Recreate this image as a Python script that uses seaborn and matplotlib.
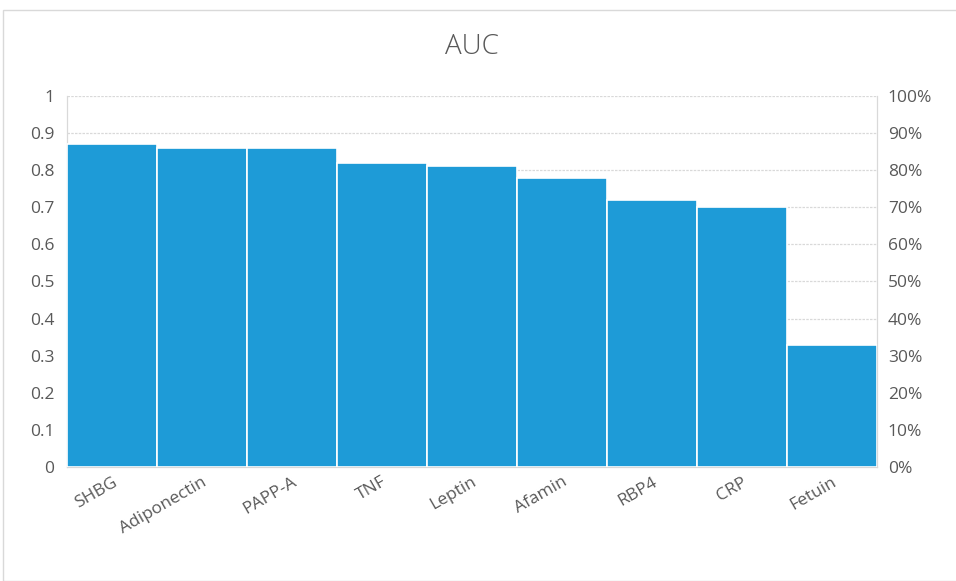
import matplotlib
matplotlib.use("Agg")
import matplotlib.pyplot as plt
from matplotlib.patches import Rectangle
from matplotlib.ticker import PercentFormatter
import seaborn as sns
import pandas as pd

# values
markers = ["SHBG", "Adiponectin", "PAPP-A", "TNF", "Leptin",
           "Afamin", "RBP4", "CRP", "Fetuin"]
auc = [0.87, 0.86, 0.86, 0.82, 0.81, 0.78, 0.72, 0.70, 0.33]
left_ticks = [0, 0.1, 0.2, 0.3, 0.4, 0.5, 0.6, 0.7, 0.8, 0.9, 1]
left_labels = ["0", "0.1", "0.2", "0.3", "0.4", "0.5", "0.6", "0.7", "0.8", "0.9", "1"]

df = pd.DataFrame({"marker": markers, "auc": auc})

sns.set_style("white")
plt.rcParams["font.family"] = ["Open Sans", "DejaVu Sans"]
txt = "#595959"
bar_col = "#1e9bd7"

fig = plt.figure(figsize=(9.56, 5.81), dpi=100)
ax = fig.add_axes([0.070, 0.196, 0.847, 0.639])

sns.barplot(data=df, x="marker", y="auc", color=bar_col, saturation=1,
            width=1.0, edgecolor="white", linewidth=1.2, ax=ax, zorder=3)

ax.set_ylim(0, 1)
ax.set_xlim(-0.5, len(markers) - 0.5)
ax.set_yticks(left_ticks)
ax.set_yticklabels(left_labels)
ax.yaxis.grid(True, color="#d9d9d9", linestyle=(0, (2, 1)), linewidth=0.9, zorder=0)
ax.set_axisbelow(True)
ax.set_xlabel("")
ax.set_ylabel("")
for s in ax.spines.values():
    s.set_color("#d9d9d9")
    s.set_linewidth(0.9)
ax.spines["top"].set_visible(False)
ax.tick_params(axis="y", length=0, labelsize=12.5, colors=txt, pad=9)
ax.tick_params(axis="x", length=0, labelsize=12.5, colors=txt, pad=5)
plt.setp(ax.get_xticklabels(), rotation=30, ha="right", rotation_mode="anchor")

ax2 = ax.twinx()
ax2.set_ylim(0, 1)
ax2.set_yticks(left_ticks)
ax2.yaxis.set_major_formatter(PercentFormatter(1.0, decimals=0))
ax2.tick_params(axis="y", length=0, labelsize=12.5, colors=txt, pad=8)
for s in ax2.spines.values():
    s.set_visible(False)

ax.set_title("AUC", fontsize=20, color=txt, pad=30, fontweight="light")

# chart-area frame
fig.patches.append(Rectangle((3 / 956, 0), 1.2, 571 / 581, transform=fig.transFigure,
                             fill=False, edgecolor="#d9d9d9", linewidth=1))

fig.savefig("out.png", dpi=100)
